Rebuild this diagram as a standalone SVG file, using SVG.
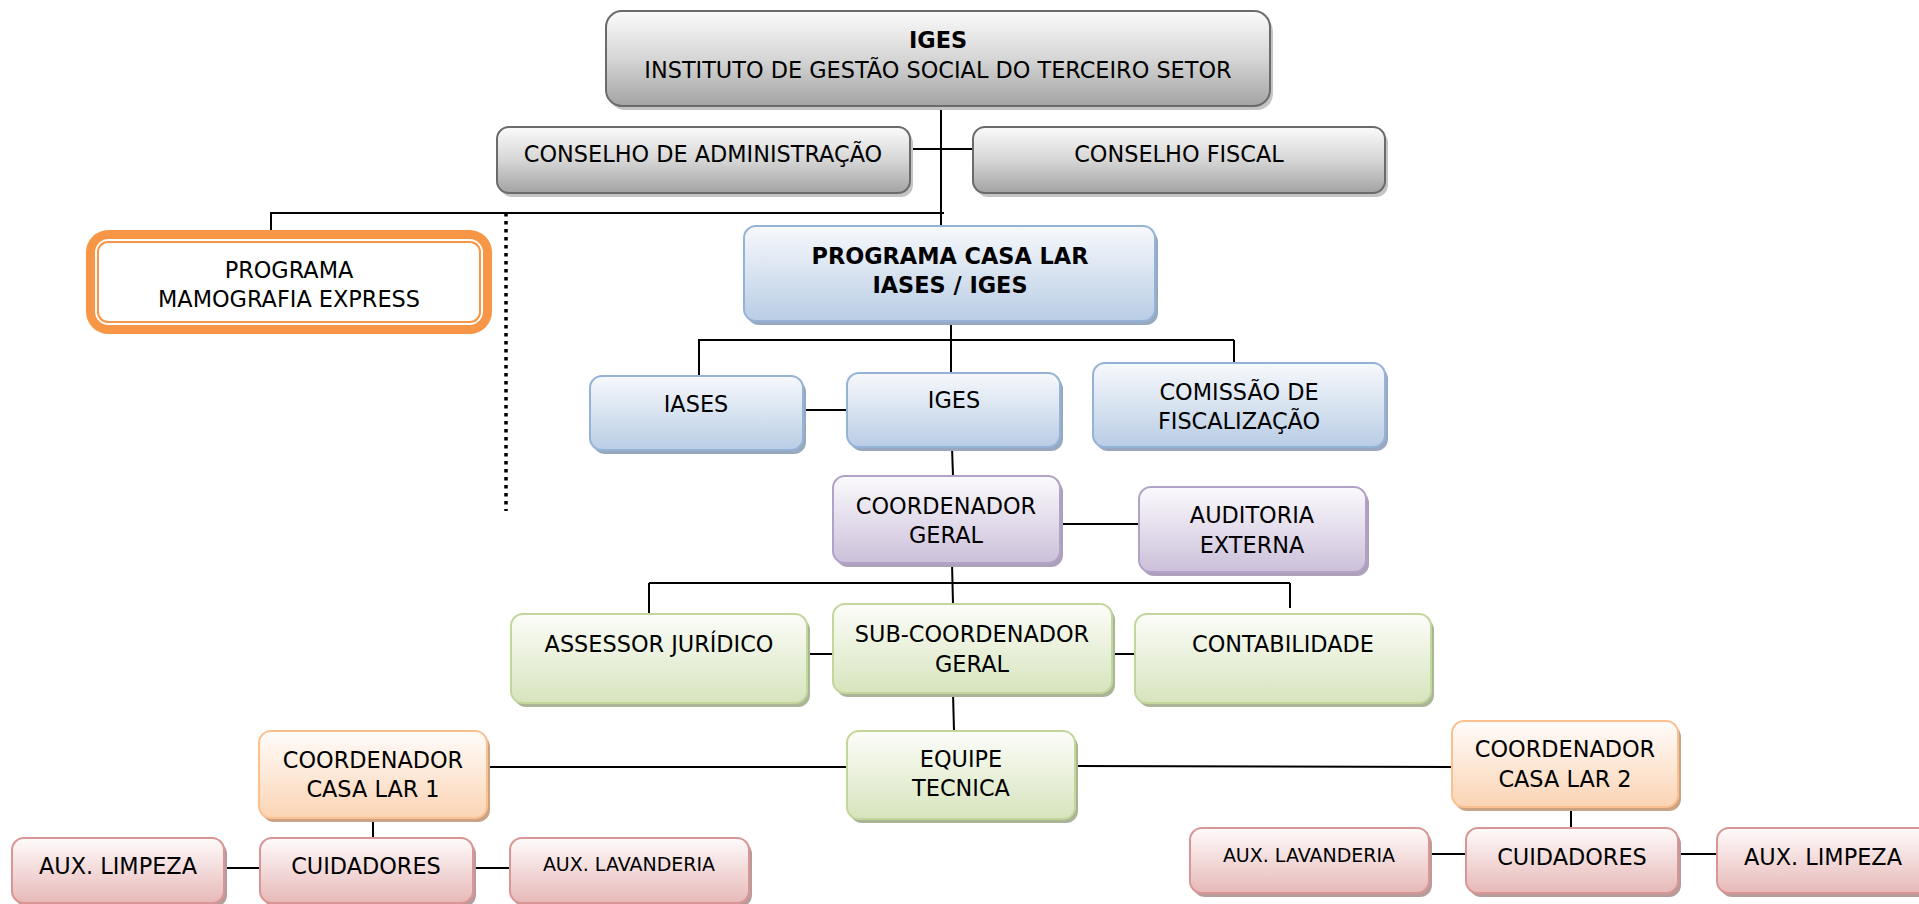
<svg xmlns="http://www.w3.org/2000/svg" width="1919" height="904" viewBox="0 0 1919 904">
<defs>
<linearGradient id="gGray" x1="0" y1="0" x2="0" y2="1"><stop offset="0" stop-color="#fbfbfb"/><stop offset="0.5" stop-color="#d6d6d6"/><stop offset="1" stop-color="#a3a3a3"/></linearGradient>
<linearGradient id="gBlue" x1="0" y1="0" x2="0" y2="1"><stop offset="0" stop-color="#f7f9fc"/><stop offset="1" stop-color="#b9cde5"/></linearGradient>
<linearGradient id="gPurple" x1="0" y1="0" x2="0" y2="1"><stop offset="0" stop-color="#fbfafd"/><stop offset="1" stop-color="#ccc0da"/></linearGradient>
<linearGradient id="gGreen" x1="0" y1="0" x2="0" y2="1"><stop offset="0" stop-color="#fcfdf9"/><stop offset="1" stop-color="#d7e4bd"/></linearGradient>
<linearGradient id="gPeach" x1="0" y1="0" x2="0" y2="1"><stop offset="0" stop-color="#fffcfa"/><stop offset="1" stop-color="#fbd4b4"/></linearGradient>
<linearGradient id="gRed" x1="0" y1="0" x2="0" y2="1"><stop offset="0" stop-color="#fffbfb"/><stop offset="1" stop-color="#e6b9b8"/></linearGradient>
</defs>
<style>
text{font-family:"DejaVu Sans",Verdana,sans-serif;font-size:22.4px;fill:#000;text-anchor:middle}
.b{font-weight:bold}
.sm{font-size:19px}
.sh{stroke:none}
.gray .m{fill:url(#gGray);stroke:#6b6b6b;stroke-width:2}
.gray .sh{fill:#c4c4c4}
.blue .m{fill:url(#gBlue);stroke:#95b3d7;stroke-width:2}
.blue .sh{fill:#97a8bf}
.purple .m{fill:url(#gPurple);stroke:#b3a2c7;stroke-width:2}
.purple .sh{fill:#aca1b8}
.green .m{fill:url(#gGreen);stroke:#c3d69b;stroke-width:2}
.green .sh{fill:#aab598}
.peach .m{fill:url(#gPeach);stroke:#fac090;stroke-width:2}
.peach .sh{fill:#c9a385}
.red .m{fill:url(#gRed);stroke:#d99694;stroke-width:2}
.red .sh{fill:#b89c9c}
.conn line{stroke:#000;stroke-width:2;fill:none}
.conn .dot{stroke-width:3.5;stroke-dasharray:3.5 4.5}
</style>

<g id="connectors" class="conn">
<line x1="941" y1="104" x2="941" y2="227"/>
<line x1="910" y1="149" x2="973" y2="149"/>
<line x1="270" y1="213" x2="944" y2="213"/>
<line x1="271" y1="213" x2="271" y2="236"/>
<line class="dot" x1="506" y1="213" x2="506" y2="511"/>
<line x1="951" y1="321" x2="951" y2="373"/>
<line x1="698" y1="340" x2="1234" y2="340"/>
<line x1="699" y1="340" x2="699" y2="376"/>
<line x1="1234" y1="340" x2="1234" y2="363"/>
<line x1="804" y1="410" x2="847" y2="410"/>
<line x1="952" y1="447" x2="953" y2="476"/>
<line x1="1060" y1="524" x2="1139" y2="524"/>
<line x1="952" y1="563" x2="953" y2="604"/>
<line x1="649" y1="583" x2="1290" y2="583"/>
<line x1="649" y1="583" x2="649" y2="614"/>
<line x1="1290" y1="583" x2="1290" y2="608"/>
<line x1="807" y1="654" x2="833" y2="654"/>
<line x1="1112" y1="654" x2="1135" y2="654"/>
<line x1="953" y1="693" x2="954" y2="731"/>
<line x1="487" y1="767" x2="847" y2="767"/>
<line x1="1075" y1="766" x2="1452" y2="767"/>
<line x1="373" y1="818" x2="373" y2="838"/>
<line x1="224" y1="868" x2="260" y2="868"/>
<line x1="473" y1="868" x2="510" y2="868"/>
<line x1="1571" y1="807" x2="1571" y2="828"/>
<line x1="1429" y1="854" x2="1466" y2="854"/>
<line x1="1678" y1="854" x2="1717" y2="854"/>
</g>

<g id="iges-top" class="gray">
<rect class="sh" x="609" y="15" width="664" height="95" rx="16"/>
<rect class="m" x="606" y="11" width="664" height="95" rx="16"/>
<text class="b" x="938" y="48">IGES</text>
<text x="938" y="78">INSTITUTO DE GESTÃO SOCIAL DO TERCEIRO SETOR</text>
</g>

<g id="conselho-adm" class="gray">
<rect class="sh" x="500" y="131" width="413" height="66" rx="12"/>
<rect class="m" x="497" y="127" width="413" height="66" rx="12"/>
<text x="703" y="162">CONSELHO DE ADMINISTRAÇÃO</text>
</g>

<g id="conselho-fiscal" class="gray">
<rect class="sh" x="976" y="131" width="412" height="66" rx="12"/>
<rect class="m" x="973" y="127" width="412" height="66" rx="12"/>
<text x="1179" y="162">CONSELHO FISCAL</text>
</g>

<g id="mamografia">
<rect x="90.5" y="234.5" width="397" height="95" rx="18" fill="#fff" stroke="#f79646" stroke-width="9"/>
<rect x="98" y="242" width="382" height="80" rx="10" fill="none" stroke="#f79646" stroke-width="2"/>
<text x="289" y="278">PROGRAMA</text>
<text x="289" y="307">MAMOGRAFIA EXPRESS</text>
</g>

<g id="casa-lar" class="blue">
<rect class="sh" x="747" y="230" width="411" height="95" rx="12"/>
<rect class="m" x="744" y="226" width="411" height="95" rx="12"/>
<text class="b" x="950" y="264">PROGRAMA CASA LAR</text>
<text class="b" x="950" y="293">IASES / IGES</text>
</g>

<g id="iases" class="blue">
<rect class="sh" x="593" y="380" width="213" height="74" rx="12"/>
<rect class="m" x="590" y="376" width="213" height="74" rx="12"/>
<text x="696" y="412">IASES</text>
</g>

<g id="iges" class="blue">
<rect class="sh" x="850" y="377" width="213" height="74" rx="12"/>
<rect class="m" x="847" y="373" width="213" height="74" rx="12"/>
<text x="954" y="408">IGES</text>
</g>

<g id="comissao" class="blue">
<rect class="sh" x="1096" y="367" width="292" height="84" rx="12"/>
<rect class="m" x="1093" y="363" width="292" height="84" rx="12"/>
<text x="1239" y="400">COMISSÃO DE</text>
<text x="1239" y="429">FISCALIZAÇÃO</text>
</g>

<g id="coordenador-geral" class="purple">
<rect class="sh" x="836" y="480" width="227" height="87" rx="12"/>
<rect class="m" x="833" y="476" width="227" height="87" rx="12"/>
<text x="946" y="514">COORDENADOR</text>
<text x="946" y="543">GERAL</text>
</g>

<g id="auditoria" class="purple">
<rect class="sh" x="1142" y="491" width="227" height="85" rx="12"/>
<rect class="m" x="1139" y="487" width="227" height="85" rx="12"/>
<text x="1252" y="523">AUDITORIA</text>
<text x="1252" y="553">EXTERNA</text>
</g>

<g id="assessor" class="green">
<rect class="sh" x="514" y="618" width="296" height="89" rx="12"/>
<rect class="m" x="511" y="614" width="296" height="89" rx="12"/>
<text x="659" y="652">ASSESSOR JURÍDICO</text>
</g>

<g id="sub-coordenador" class="green">
<rect class="sh" x="836" y="608" width="279" height="89" rx="12"/>
<rect class="m" x="833" y="604" width="279" height="89" rx="12"/>
<text x="972" y="642">SUB-COORDENADOR</text>
<text x="972" y="672">GERAL</text>
</g>

<g id="contabilidade" class="green">
<rect class="sh" x="1138" y="618" width="296" height="89" rx="12"/>
<rect class="m" x="1135" y="614" width="296" height="89" rx="12"/>
<text x="1283" y="652">CONTABILIDADE</text>
</g>

<g id="equipe-tecnica" class="green">
<rect class="sh" x="850" y="735" width="228" height="88" rx="12"/>
<rect class="m" x="847" y="731" width="228" height="88" rx="12"/>
<text x="961" y="767">EQUIPE</text>
<text x="961" y="796">TECNICA</text>
</g>

<g id="coordenador-casa-lar-1" class="peach">
<rect class="sh" x="262" y="735" width="228" height="87" rx="12"/>
<rect class="m" x="259" y="731" width="228" height="87" rx="12"/>
<text x="373" y="768">COORDENADOR</text>
<text x="373" y="797">CASA LAR 1</text>
</g>

<g id="coordenador-casa-lar-2" class="peach">
<rect class="sh" x="1455" y="725" width="226" height="86" rx="12"/>
<rect class="m" x="1452" y="721" width="226" height="86" rx="12"/>
<text x="1565" y="757">COORDENADOR</text>
<text x="1565" y="787">CASA LAR 2</text>
</g>

<g id="aux-limpeza-1" class="red">
<rect class="sh" x="15" y="842" width="212" height="65" rx="12"/>
<rect class="m" x="12" y="838" width="212" height="65" rx="12"/>
<text x="118" y="874">AUX. LIMPEZA</text>
</g>

<g id="cuidadores-1" class="red">
<rect class="sh" x="263" y="842" width="213" height="65" rx="12"/>
<rect class="m" x="260" y="838" width="213" height="65" rx="12"/>
<text x="366" y="874">CUIDADORES</text>
</g>

<g id="aux-lavanderia-1" class="red">
<rect class="sh" x="513" y="842" width="239" height="65" rx="12"/>
<rect class="m" x="510" y="838" width="239" height="65" rx="12"/>
<text class="sm" x="629" y="871">AUX. LAVANDERIA</text>
</g>

<g id="aux-lavanderia-2" class="red">
<rect class="sh" x="1193" y="832" width="239" height="65" rx="12"/>
<rect class="m" x="1190" y="828" width="239" height="65" rx="12"/>
<text class="sm" x="1309" y="862">AUX. LAVANDERIA</text>
</g>

<g id="cuidadores-2" class="red">
<rect class="sh" x="1469" y="832" width="212" height="65" rx="12"/>
<rect class="m" x="1466" y="828" width="212" height="65" rx="12"/>
<text x="1572" y="865">CUIDADORES</text>
</g>

<g id="aux-limpeza-2" class="red">
<rect class="sh" x="1720" y="832" width="213" height="65" rx="12"/>
<rect class="m" x="1717" y="828" width="213" height="65" rx="12"/>
<text x="1823" y="865">AUX. LIMPEZA</text>
</g>
</svg>
